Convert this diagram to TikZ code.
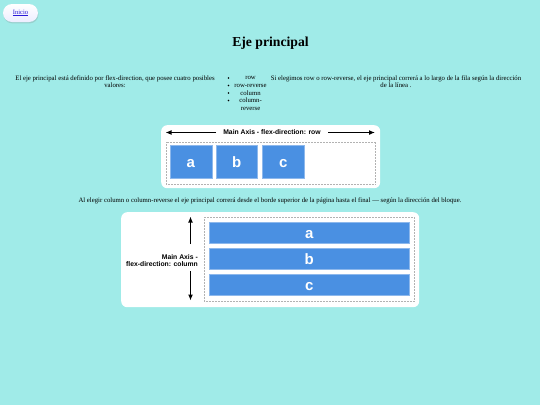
\documentclass[tikz,border=0pt]{standalone}
\usepackage{fontspec}
\setmainfont{Liberation Serif}
\newfontfamily\diagfont{Liberation Sans}
\usetikzlibrary{arrows.meta,shadows,calc}
\definecolor{bgc}{HTML}{A0EBE8}
\definecolor{itemblue}{HTML}{4A90E2}
\definecolor{itemedge}{HTML}{8DB8EC}
\definecolor{linkc}{HTML}{2A1AD8}
\tikzset{
  panel/.style={fill=white, draw=none, rounded corners=6pt},
  dashbox/.style={draw=gray!60, densely dotted, line width=0.5pt},
  item/.style={fill=itemblue, draw=itemedge, line width=0.6pt, text=white, font=\diagfont\fontsize{15}{15}\selectfont\bfseries, inner sep=0pt, text height=10.7pt, text depth=0pt},
  body/.style={font=\fontsize{6.75}{7.5}\selectfont, text=black, inner sep=0pt},
  axislabel/.style={font=\diagfont\fontsize{6.8}{7.4}\selectfont\bfseries, inner sep=0pt},
  axisarrow/.style={line width=1.4pt, -{Latex[length=6pt,width=5pt]}},
}
\begin{document}
\begin{tikzpicture}[x=1pt,y=-1pt]
\fill[bgc] (0,0) rectangle (540,405);
\useasboundingbox (0,0) rectangle (540,405);

% Inicio button
\node[draw=none, rounded corners=9pt, minimum width=35pt, minimum height=18pt,
  top color=white, bottom color=blue!7, drop shadow={opacity=0.25, shadow xshift=0.5pt, shadow yshift=-1.4pt}] (btn) at (20.5,13) {};
\node[font=\fontsize{6.6}{6.6}\selectfont, text=linkc, inner sep=0pt] (inicio) at (btn.center) {\underline{Inicio}};

% Title
\node[font=\fontsize{13.7}{15}\selectfont\bfseries, inner sep=0pt] (title) at (270.5,43.5) {Eje principal};

% Paragraphs
\node[body, align=center] (p1) at (115,81.5) {El eje principal está definido por flex-direction, que posee cuatro posibles\\valores:};
\node[body, align=center] (r1) at (250.5,78) {row};
\node[body, align=center] (r2) at (250.5,85.5) {row-reverse};
\node[body, align=center] (r3) at (250.5,93) {column};
\node[body, align=center] (r4) at (250.5,104.3) {column-\\reverse};
\foreach \yy/\nm in {78/b1,85.5/b2,93/b3,100.5/b4}{
  \node[fill=black, circle, inner sep=0pt, minimum size=1.7pt] (\nm) at (228.5,\yy) {};
}
\node[body, align=center] (p2) at (396,81.5) {Si elegimos row o row-reverse, el eje principal correrá a lo largo de la fila según la dirección\\de la línea .};

% Row diagram
\node[panel, minimum width=219pt, minimum height=63pt, anchor=north west] (panel1) at (161,125) {};
\node[axislabel] (lab1) at (272,132.5) {Main Axis - flex-direction: row};
\coordinate (l1a) at (216,132.5);
\coordinate (l1b) at (165.5,132.5);
\coordinate (r1a) at (328,132.5);
\coordinate (r1b) at (375,132.5);
\draw[axisarrow] (l1a) -- (l1b);
\draw[axisarrow] (r1a) -- (r1b);
\node[dashbox, minimum width=209pt, minimum height=42pt, anchor=north west] (dash1) at (166,141.5) {};
\node[item, minimum width=42pt, minimum height=33pt, anchor=north west] (ra) at (169.5,145) {a};
\node[item, minimum width=41pt, minimum height=33pt, anchor=north west] (rb) at (216,145) {b};
\node[item, minimum width=42pt, minimum height=33pt, anchor=north west] (rc) at (262,145) {c};

% Middle text
\node[body] (p3) at (270,201) {Al elegir column o column-reverse el eje principal correrá desde el borde superior de la página hasta el final — según la dirección del bloque.};

% Column diagram
\node[panel, minimum width=298pt, minimum height=95pt, anchor=north west] (panel2) at (121,212) {};
\node[dashbox, minimum width=210pt, minimum height=84pt, anchor=north west] (dash2) at (204,217) {};
\node[item, minimum width=200pt, minimum height=21pt, anchor=north west] (ca) at (209,222) {a};
\node[item, minimum width=200pt, minimum height=21pt, anchor=north west] (cb) at (209,248) {b};
\node[item, minimum width=200pt, minimum height=21pt, anchor=north west] (cc) at (209,274) {c};
\node[axislabel, align=right, anchor=east] (lab2) at (198,260.5) {Main Axis -\\flex-direction: column};
\coordinate (u1a) at (190.5,244);
\coordinate (u1b) at (190.5,216.5);
\coordinate (d1a) at (190.5,271);
\coordinate (d1b) at (190.5,300.5);
\draw[axisarrow] (u1a) -- (u1b);
\draw[axisarrow] (d1a) -- (d1b);
\end{tikzpicture}
\end{document}
